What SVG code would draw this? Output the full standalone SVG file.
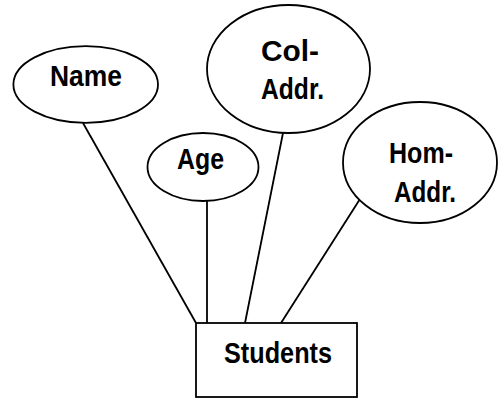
<svg xmlns="http://www.w3.org/2000/svg" width="498" height="398" viewBox="0 0 498 398">
<style>
.shape{fill:#fff;stroke:#000;stroke-width:1.8}
.conn line{stroke:#000;stroke-width:1.8}
text{font-family:"Liberation Sans",Arial,sans-serif;font-weight:bold;font-size:29px;fill:#000}
</style>
<rect width="498" height="398" fill="#fff"/>
<g class="conn" id="connectors">
<line x1="83" y1="123" x2="196" y2="323"/>
<line x1="207" y1="201" x2="207" y2="323"/>
<line x1="283" y1="133" x2="245" y2="323"/>
<line x1="360" y1="199" x2="281" y2="323"/>
</g>
<g id="name">
<ellipse class="shape" cx="85.7" cy="84.5" rx="72.3" ry="38.3"/>
<text x="50" y="86" textLength="72" lengthAdjust="spacingAndGlyphs">Name</text>
</g>
<g id="age">
<ellipse class="shape" cx="203" cy="167" rx="55.5" ry="34"/>
<text x="177" y="169" textLength="47" lengthAdjust="spacingAndGlyphs">Age</text>
</g>
<g id="col-addr">
<ellipse class="shape" cx="288.5" cy="69" rx="81.5" ry="64"/>
<text x="261" y="61" textLength="58" lengthAdjust="spacingAndGlyphs">Col-</text>
<text x="261" y="99" textLength="63" lengthAdjust="spacingAndGlyphs">Addr.</text>
</g>
<g id="hom-addr">
<ellipse class="shape" cx="420" cy="162.5" rx="77" ry="60.5"/>
<text x="389" y="163" textLength="64" lengthAdjust="spacingAndGlyphs">Hom-</text>
<text x="394" y="202" textLength="62" lengthAdjust="spacingAndGlyphs">Addr.</text>
</g>
<g id="students">
<rect class="shape" x="196" y="323" width="161" height="74"/>
<text x="224" y="363" textLength="108" lengthAdjust="spacingAndGlyphs">Students</text>
</g>
</svg>
